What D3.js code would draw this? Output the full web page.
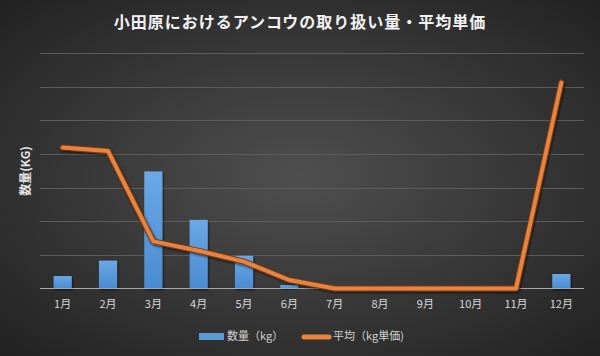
<!DOCTYPE html>
<html><head><meta charset="utf-8">
<script src="https://cdn.jsdelivr.net/npm/d3@7"></script>
<style>html,body{margin:0;padding:0;background:#333;}svg{display:block;}</style>
</head><body>
<svg id="chart" width="600" height="356"></svg>
<script>
const months = ["1月","2月","3月","4月","5月","6月","7月","8月","9月","10月","11月","12月"];
const quantity = [185, 415, 1740, 1020, 485, 50, 0, 0, 0, 0, 0, 215];
const avgPrice = [2095, 2045, 700, 560, 400, 125, 0, 0, 0, 0, 0, 3060];
const gridTicks = [0, 500, 1000, 1500, 2000, 2500, 3000, 3500];
const title = "小田原におけるアンコウの取り扱い量・平均単価";
const yLabel = "数量(KG)";
const legendLabels = ["数量（kg）", "平均（kg単価)"];

const W = 600, H = 356;
const m = {left: 40, right: 16, top: 53, bottom: 67.5};
const svg = d3.select("#chart");
const defs = svg.append("defs");

const bg = defs.append("radialGradient").attr("id","bg").attr("cx","50%").attr("cy","50%").attr("r","70%");
bg.append("stop").attr("offset","0%").attr("stop-color","#4f4f4f");
bg.append("stop").attr("offset","100%").attr("stop-color","#222222");
const bar = defs.append("linearGradient").attr("id","bar").attr("x1",0).attr("y1",0).attr("x2",0).attr("y2",1);
bar.append("stop").attr("offset","0%").attr("stop-color","#6aa8e6");
bar.append("stop").attr("offset","100%").attr("stop-color","#4a8bd0");
const sh = defs.append("filter").attr("id","sh").attr("x","-10%").attr("y","-10%").attr("width","130%").attr("height","130%");
sh.append("feDropShadow").attr("dx",1).attr("dy",1.5).attr("stdDeviation",1.2).attr("flood-color","#000").attr("flood-opacity",0.6);

svg.append("rect").attr("width",W).attr("height",H).attr("fill","url(#bg)");

const x = d3.scaleBand().domain(months).range([m.left, W - m.right]).paddingInner(0.6).paddingOuter(0.3);
const y = d3.scaleLinear().domain([0, 3500]).range([H - m.bottom, m.top]);
const y2 = d3.scaleLinear().domain([0, 3500]).range([H - m.bottom, m.top]);

// gridlines
svg.append("g").selectAll("line").data(gridTicks.slice(1)).join("line")
  .attr("x1", m.left).attr("x2", W - m.right)
  .attr("y1", d => Math.round(y(d)) + 0.5).attr("y2", d => Math.round(y(d)) + 0.5)
  .attr("stroke", "#5c5c5c").attr("stroke-width", 1);

// bars
svg.append("g").selectAll("rect").data(quantity).join("rect")
  .attr("x", (d,i) => x(months[i]))
  .attr("width", x.bandwidth())
  .attr("y", d => y(d))
  .attr("height", d => y(0) - y(d))
  .attr("fill", "url(#bar)")
  .attr("filter","url(#sh)");

// baseline
svg.append("line").attr("x1", m.left).attr("x2", W - m.right)
  .attr("y1", y(0)).attr("y2", y(0)).attr("stroke", "#a8a8a8").attr("stroke-width", 1);

// x axis labels
const xAxis = d3.axisBottom(x).tickSize(0).tickPadding(12);
const gx = svg.append("g").attr("transform", `translate(0,${y(0)})`).call(xAxis);
gx.select(".domain").remove();
gx.selectAll("text").attr("fill","#d8d8d8").style("font-family","'Noto Sans CJK JP', sans-serif").style("font-size","11px");

// line
const line = d3.line().x((d,i) => x(months[i]) + x.bandwidth()/2).y(d => y2(d));
svg.append("path").datum(avgPrice).attr("d", line)
  .attr("fill","none").attr("stroke","#7a3e14").attr("stroke-width",6)
  .attr("stroke-linejoin","round").attr("stroke-linecap","round").attr("filter","url(#sh)");
svg.append("path").datum(avgPrice).attr("d", line)
  .attr("fill","none").attr("stroke","#e8843f").attr("stroke-width",4)
  .attr("stroke-linejoin","round").attr("stroke-linecap","round");

// title
svg.append("text").attr("x", 300).attr("y", 28).attr("text-anchor","middle")
  .attr("fill","#f2f2f2").style("font-family","'Noto Sans CJK JP', sans-serif")
  .style("font-size","16px").style("font-weight","bold").style("letter-spacing","1px")
  .text(title);

// y label
svg.append("text").attr("transform","translate(30,171) rotate(-90)").attr("text-anchor","middle")
  .attr("fill","#e6e6e6").style("font-family","'Noto Sans CJK JP', sans-serif")
  .style("font-size","12px").style("font-weight","bold").text(yLabel);

// legend
const lg = svg.append("g").style("font-family","'Noto Sans CJK JP', sans-serif").style("font-size","11px");
lg.append("rect").attr("x",199).attr("y",333).attr("width",25).attr("height",7).attr("fill","#5b9bd5");
lg.append("text").attr("x",227).attr("y",340).attr("fill","#d0d0d0").text(legendLabels[0]);
lg.append("line").attr("x1",304).attr("x2",329).attr("y1",337).attr("y2",337)
  .attr("stroke","#e8843f").attr("stroke-width",5).attr("stroke-linecap","round");
lg.append("text").attr("x",333).attr("y",340).attr("fill","#d0d0d0").text(legendLabels[1]);
</script>
</body></html>
